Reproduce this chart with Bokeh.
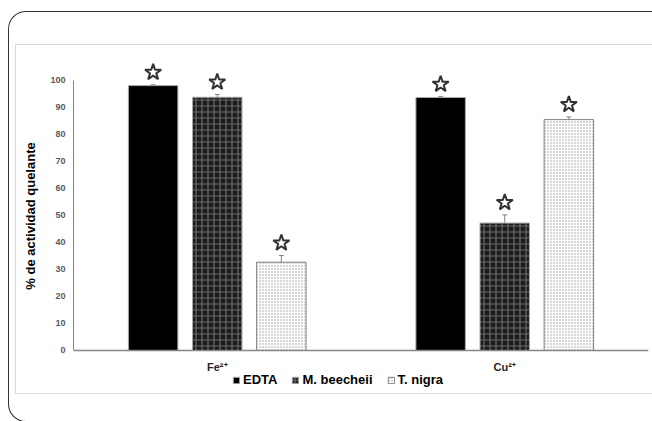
from bokeh.plotting import figure
from bokeh.models import (ColumnDataSource, FactorRange, Range1d, Whisker, TeeHead,
                          Legend, LegendItem, FixedTicker, InlineStyleSheet)
from bokeh.transform import dodge
from bokeh.embed import file_html
from bokeh.resources import INLINE

groups = ["Fe²⁺", "Cu²⁺"]
series = ["EDTA", "M. beecheii", "T. nigra"]
edta = [98.1, 93.7]
beecheii = [93.8, 47.2]
nigra = [32.7, 85.5]
edta_err = [0.3, 0.3]
beecheii_err = [1.0, 3.0]
nigra_err = [2.5, 1.0]
y_ticks = [0, 10, 20, 30, 40, 50, 60, 70, 80, 90, 100]

FONT = "Liberation Sans"

p = figure(width=652, height=421, output_backend="svg", toolbar_location=None,
           x_range=FactorRange(factors=groups, range_padding=0),
           y_range=Range1d(-15.19, 114.81),
           min_border_left=73, min_border_right=4, min_border_top=40, min_border_bottom=30)
p.outline_line_color = None
p.grid.visible = False
p.background_fill_color = None
p.border_fill_color = None

# decorative page frames (rounded outer border and light inner box)
p.stylesheets = [InlineStyleSheet(css="""
:host::before { content: ""; position: absolute; left: 8px; top: 11px; width: 644px; height: 411px;
  box-sizing: border-box; border: 1.5px solid #333; border-right: none;
  border-radius: 18px 0 0 18px; pointer-events: none; z-index: 5; }
:host::after { content: ""; position: absolute; left: 15px; top: 44px; width: 637px; height: 350px;
  box-sizing: border-box; border: 1px solid #d9d9d9; border-right: none;
  pointer-events: none; z-index: 5; }
""")]

offsets = [-0.223, 0.0, 0.223]
vals = [edta, beecheii, nigra]
errs = [edta_err, beecheii_err, nigra_err]
styles = [
    dict(fill_color="black", line_color="#aaaaaa"),
    dict(fill_color="#1c1c1c", line_color="#aaaaaa", hatch_pattern="+",
         hatch_color="#6a6a6a", hatch_scale=6, hatch_weight=1.2),
    dict(fill_color="white", line_color="#7f7f7f", hatch_pattern=".",
         hatch_color="#9a9a9a", hatch_scale=3, hatch_weight=1),
]

items = []
for name, off, v, e, st in zip(series, offsets, vals, errs, styles):
    src = ColumnDataSource(dict(
        x=groups, top=v,
        upper=[a + b for a, b in zip(v, e)],
        lower=[a - b for a, b in zip(v, e)],
        star=[a + b + 4.6 for a, b in zip(v, e)],
    ))
    r = p.vbar(x=dodge("x", off, range=p.x_range), top="top", width=0.172,
               source=src, line_width=1, **st)
    items.append(LegendItem(label=name, renderers=[r]))
    w = Whisker(base=dodge("x", off, range=p.x_range), upper="upper", lower="lower",
                source=src, line_color="#808080", line_width=1,
                upper_head=TeeHead(size=5, line_color="#808080", line_width=1),
                lower_head=TeeHead(size=5, line_color="#808080", line_width=1))
    p.add_layout(w)
    p.scatter(x=dodge("x", off, range=p.x_range), y="star", source=src,
              marker="star", size=17, fill_color="white",
              line_color="#333333", line_width=2)

# y axis
ya = p.yaxis[0]
ya.bounds = (0, 100)
ya.ticker = FixedTicker(ticks=y_ticks)
ya.axis_line_color = "#868686"
ya.axis_line_width = 1
ya.major_tick_line_color = None
ya.minor_tick_line_color = None
ya.major_tick_out = 0
ya.major_tick_in = 0
ya.major_label_standoff = 8
ya.major_label_text_font = FONT
ya.major_label_text_font_style = "bold"
ya.major_label_text_font_size = "9px"
ya.major_label_text_color = "#595959"
ya.axis_label = "% de actividad quelante"
ya.axis_label_text_font = FONT
ya.axis_label_text_font_style = "bold"
ya.axis_label_text_font_size = "13px"
ya.axis_label_text_color = "black"
ya.axis_label_standoff = 9

# x axis, drawn at y = 0
xa = p.xaxis[0]
xa.fixed_location = 0
xa.axis_line_color = "#868686"
xa.axis_line_width = 1.5
xa.major_tick_line_color = None
xa.minor_tick_line_color = None
xa.major_tick_out = 0
xa.major_tick_in = 0
xa.major_label_standoff = 11
xa.major_label_text_font = FONT
xa.major_label_text_font_style = "bold"
xa.major_label_text_font_size = "11px"
xa.major_label_text_color = "#262626"

legend = Legend(items=items, orientation="horizontal", location=(159, 4),
                label_text_font=FONT, label_text_font_style="bold",
                label_text_font_size="13px", label_text_color="black",
                glyph_width=8, glyph_height=8, label_standoff=3, spacing=14,
                border_line_color=None, background_fill_alpha=0,
                padding=0, margin=0, label_height=14)
p.add_layout(legend)

open("out.html", "w").write(file_html(p, INLINE))
